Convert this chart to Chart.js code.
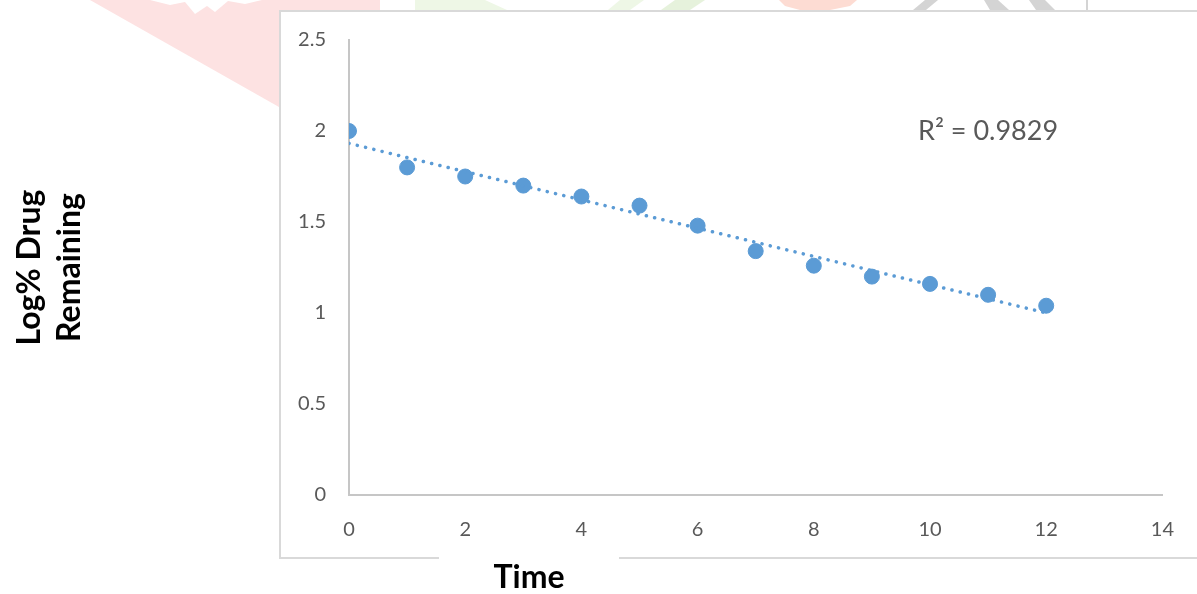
<!DOCTYPE html>
<html>
<head>
<meta charset="utf-8">
<script src="https://cdn.jsdelivr.net/npm/chart.js@4/dist/chart.umd.min.js"></script>
<style>
html,body{margin:0;padding:0;background:#fff;overflow:hidden}
#wrap{position:relative;width:1197px;height:594px}
</style>
</head>
<body>
<div id="wrap"><canvas id="c" width="1197" height="594"></canvas></div>
<script>
const timePoints   = [0, 1, 2, 3, 4, 5, 6, 7, 8, 9, 10, 11, 12];
const logRemaining = [2.00, 1.80, 1.75, 1.70, 1.64, 1.59, 1.48, 1.34, 1.26, 1.20, 1.16, 1.10, 1.04];
const xTickValues  = [0, 2, 4, 6, 8, 10, 12, 14];
const yTickValues  = [0, 0.5, 1, 1.5, 2, 2.5];
const xTitle = 'Time';
const yTitle = ['Log% Drug', 'Remaining'];
const rSquaredLabel = 'R\u00B2 = 0.9829';

// linear trendline (least squares) from the data
const n = timePoints.length;
const mx = timePoints.reduce((a, b) => a + b, 0) / n;
const my = logRemaining.reduce((a, b) => a + b, 0) / n;
let sxy = 0, sxx = 0;
for (let i = 0; i < n; i++) { sxy += (timePoints[i] - mx) * (logRemaining[i] - my); sxx += (timePoints[i] - mx) ** 2; }
const slope = sxy / sxx, intercept = my - slope * mx;
const x0 = timePoints[0], x1 = timePoints[n - 1];
const trend = [{x: x0, y: intercept + slope * x0}, {x: x1, y: intercept + slope * x1}];

const BLUE = '#5B9BD5';
const TICK = '#595959';

function poly(ctx, color, pts) {
  ctx.fillStyle = color;
  ctx.beginPath();
  ctx.moveTo(pts[0][0], pts[0][1]);
  for (let i = 1; i < pts.length; i++) ctx.lineTo(pts[i][0], pts[i][1]);
  ctx.closePath();
  ctx.fill();
}

const decor = {
  id: 'decor',
  beforeDraw(chart) {
    const ctx = chart.ctx;
    ctx.save();
    ctx.fillStyle = '#fff';
    ctx.fillRect(0, 0, chart.width, chart.height);
    // faint watermark remnants above / left of the frame
    poly(ctx, '#FDE2E2', [[90,0],[150,0],[170,5],[185,2],[195,14],[207,6],[215,12],[228,1],[245,4],[262,0],[380,0],[380,10],[279,10],[279,107]]);
    poly(ctx, '#EEF7E6', [[415,0],[485,0],[507,10],[415,10]]);
    poly(ctx, '#EEF7E6', [[620,0],[644,0],[630,10],[608,10]]);
    poly(ctx, '#E6F2DC', [[675,0],[705,0],[690,10],[661,10]]);
    poly(ctx, '#FDDCD3', [[779,0],[857,0],[850,6],[830,10],[800,10],[785,6]]);
    poly(ctx, '#D4D4D4', [[925,0],[938,0],[926,10],[913,10]]);
    poly(ctx, '#D4D4D4', [[984,0],[998,0],[1009,10],[990,10]]);
    poly(ctx, '#D4D4D4', [[1029,0],[1045,0],[1055,10],[1036,10]]);
    ctx.fillStyle = '#D4D4D4';
    ctx.fillRect(1086, 0, 2, 10);
    // frame
    ctx.fillStyle = '#fff';
    ctx.fillRect(280, 11, 917, 547);
    ctx.strokeStyle = '#D9D9D9';
    ctx.lineWidth = 2;
    ctx.beginPath();
    ctx.moveTo(1197, 11); ctx.lineTo(280, 11); ctx.lineTo(280, 558); ctx.lineTo(439, 558);
    ctx.moveTo(619, 558); ctx.lineTo(1197, 558);
    ctx.stroke();
    ctx.restore();
  },
  afterDraw(chart) {
    const ctx = chart.ctx;
    ctx.save();
    ctx.fillStyle = '#000';
    ctx.font = 'bold 32px Lato';
    ctx.textAlign = 'center';
    ctx.textBaseline = 'middle';
    ctx.fillText(xTitle, 529, 578);
    ctx.fillStyle = TICK;
    ctx.font = '27px Lato';
    ctx.textAlign = 'left';
    ctx.fillText(rSquaredLabel, 918, 131);
    ctx.restore();
  }
};

new Chart(document.getElementById('c'), {
  type: 'scatter',
  data: {
    datasets: [
      {
        label: 'Trend',
        data: trend,
        showLine: true,
        borderColor: BLUE,
        borderWidth: 3.5,
        borderDash: [0.1, 8.4],
        borderCapStyle: 'round',
        pointRadius: 0,
        fill: false,
        order: 0
      },
      {
        label: 'Log% Drug Remaining',
        data: timePoints.map((t, i) => ({x: t, y: logRemaining[i]})),
        backgroundColor: BLUE,
        borderColor: BLUE,
        pointRadius: 7.5,
        pointHoverRadius: 7.5,
        order: 1
      }
    ]
  },
  options: {
    responsive: false,
    animation: false,
    events: [],
    layout: { padding: { left: 0, top: 40, right: 31, bottom: 0 } },
    plugins: { legend: { display: false }, tooltip: { enabled: false } },
    scales: {
      x: {
        type: 'linear',
        min: xTickValues[0],
        max: xTickValues[xTickValues.length - 1],
        afterBuildTicks: s => { s.ticks = xTickValues.map(v => ({value: v})); },
        afterFit: s => { s.height = 99; },
        grid: { display: false, drawTicks: false },
        border: { display: true, color: '#C6C6C6', width: 2 },
        ticks: { color: TICK, font: { family: 'Lato', size: 20 }, padding: 23, maxRotation: 0,
                 callback: v => String(v) }
      },
      y: {
        type: 'linear',
        min: yTickValues[0],
        max: yTickValues[yTickValues.length - 1],
        afterBuildTicks: s => { s.ticks = yTickValues.map(v => ({value: v})); },
        afterFit: s => { s.width = 349; },
        grid: { display: false, drawTicks: false },
        border: { display: true, color: '#C6C6C6', width: 2 },
        ticks: { color: TICK, font: { family: 'Lato', size: 20 }, padding: 23,
                 callback: v => String(v) },
        title: {
          display: true,
          text: yTitle,
          color: '#000',
          font: { family: 'Lato', size: 32, weight: 'bold', lineHeight: 1.25 },
          padding: { top: 10, bottom: 0 }
        }
      }
    }
  },
  plugins: [decor]
});
</script>
</body>
</html>
